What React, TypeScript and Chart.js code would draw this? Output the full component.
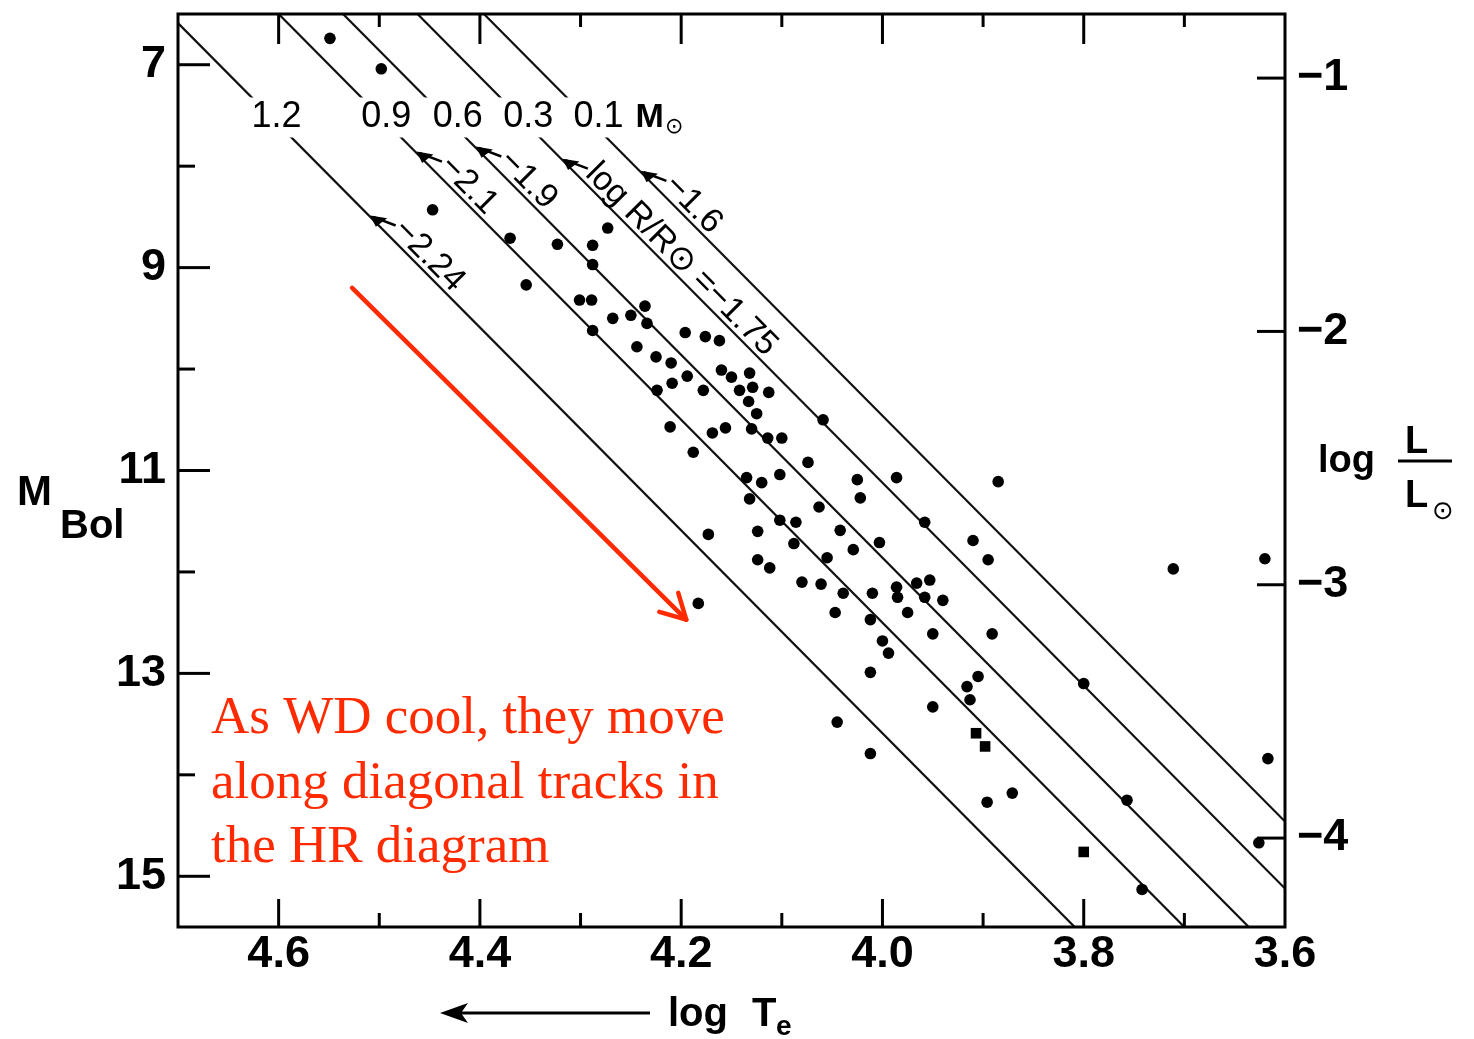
import React, { useEffect, useRef } from 'react';
import { Chart, registerables } from 'chart.js';

Chart.register(...registerables);

// ---------------- data ----------------
const starLogTe = [
  4.549, 4.498, 4.447, 4.370, 4.354, 4.323, 4.288, 4.273, 4.288, 4.301,
  4.289, 4.268, 4.250, 4.236, 4.234, 4.288, 4.244, 4.225, 4.210, 4.209,
  4.224, 4.194, 4.178, 4.196, 4.176, 4.162, 4.160, 4.150, 4.132, 4.142,
  4.129, 4.133, 4.125, 4.113, 4.059, 4.211, 4.169, 4.156, 4.130, 4.114,
  4.100, 4.188, 4.074, 4.135, 4.120, 4.102, 4.025, 3.986, 4.022, 4.132,
  4.063, 4.102, 4.086, 4.173, 4.124, 4.042, 4.088, 4.003, 4.029, 3.958,
  4.055, 4.124, 4.112, 4.080, 4.061, 4.039, 4.010, 3.986, 3.985, 3.966,
  3.975, 4.047, 4.012, 4.183, 3.885, 3.910, 3.895, 3.711, 3.620, 3.953,
  3.958, 3.940, 3.950, 3.891, 3.905, 3.916, 3.913, 3.950, 3.800, 3.617,
  3.871, 3.896, 3.757, 3.626, 3.742, 4.000, 3.994, 4.012, 4.045, 4.012,
];
const starMbol = [
  6.74, 7.04, 8.43, 8.71, 9.17, 8.77, 8.78, 8.61, 8.97, 9.32,
  9.32, 9.50, 9.47, 9.38, 9.55, 9.62, 9.78, 9.88, 9.94, 10.14,
  10.21, 10.07, 10.21, 9.64, 9.68, 9.72, 10.01, 10.08, 10.04, 10.21,
  10.18, 10.32, 10.44, 10.23, 10.50, 10.57, 10.63, 10.58, 10.59, 10.68,
  10.68, 10.82, 10.92, 11.07, 11.12, 11.04, 11.09, 11.07, 11.27, 11.28,
  11.36, 11.49, 11.51, 11.63, 11.60, 11.59, 11.72, 11.71, 11.78, 11.51,
  11.86, 11.88, 11.96, 12.10, 12.12, 12.21, 12.21, 12.15, 12.25, 12.11,
  12.40, 12.40, 12.47, 12.31, 11.11, 11.69, 11.88, 11.97, 11.87, 12.08,
  12.25, 12.28, 12.61, 12.61, 13.03, 13.13, 13.26, 13.33, 13.10, 13.84,
  14.18, 14.27, 14.25, 14.67, 15.13, 12.68, 12.80, 12.99, 13.48, 13.79,
];
const squareLogTe = [3.907, 3.898, 3.800];
const squareMbol = [13.59, 13.72, 14.76];

// constant-mass (constant-radius) tracks: M_bol at log Te = 4.0, slope dM/dlogTe
const trackMassLabels = ['1.2', '0.9', '0.6', '0.3', '0.1'];
const trackMbolAtLogTe4 = [13.59, 12.5, 11.86, 11.12, 10.46];
const TRACK_SLOPE = -10;

const radiusLabels = ['−2.24', '−2.1', '−1.9', 'log R/R⊙ =−1.75', '−1.6'];
const radiusLabelTrack = [0, 1, 2, 3, 4];

const xTickValues = [4.6, 4.4, 4.2, 4.0, 3.8, 3.6];
const xTickLabels = ['4.6', '4.4', '4.2', '4.0', '3.8', '3.6'];
const xMinorValues = [4.5, 4.3, 4.1, 3.9, 3.7];
const yTickValues = [7, 9, 11, 13, 15];
const yTickLabels = ['7', '9', '11', '13', '15'];
const yMinorValues = [8, 10, 12, 14];
const lumTickValues = [-1, -2, -3, -4];
const lumTickLabels = ['−1', '−2', '−3', '−4'];

const noteLines = ['As WD cool, they move', 'along diagonal tracks in', 'the HR diagram'];

// ---------------- styling ----------------
const FONT = "'Liberation Sans', Arial, sans-serif";
const SERIF = "'Liberation Serif', 'Times New Roman', serif";
const RED = '#ff2a00';
const INK = '#000';

const MASS_LABEL_MBOL = 7.52;
const massLabelDx = [5, 5, 12, 8, 12];
const radiusLabelMbol = [8.5, 7.87, 7.82, 7.94, 8.06];
const coolFrom = { x: 4.527, y: 9.2 };
const coolTo = { x: 4.195, y: 12.47 };

const trackLogTeAt = (i: number, m: number) => 4.0 + (m - trackMbolAtLogTe4[i]) / TRACK_SLOPE;
const trackMbolAt = (i: number, t: number) => trackMbolAtLogTe4[i] + TRACK_SLOPE * (t - 4.0);

const annotations = {
  id: 'wdAnnotations',
  beforeDatasetDraw(chart: any, args: any) {
    if (args.index !== 1) return;
    const { ctx } = chart;
    const xs = chart.scales.x;
    const ys = chart.scales.y;
    ctx.save();
    ctx.font = `36px ${FONT}`;
    ctx.textBaseline = 'middle';
    ctx.textAlign = 'center';
    trackMassLabels.forEach((lab, i) => {
      const t = trackLogTeAt(i, MASS_LABEL_MBOL);
      const cx = xs.getPixelForValue(t) + massLabelDx[i];
      const cy = ys.getPixelForValue(MASS_LABEL_MBOL);
      const w = ctx.measureText(lab).width;
      const topY = cy - 20;
      const botY = cy + 20;
      const lineTopX = xs.getPixelForValue(trackLogTeAt(i, ys.getValueForPixel(topY)));
      const lineBotX = xs.getPixelForValue(trackLogTeAt(i, ys.getValueForPixel(botY)));
      const l = Math.min(cx - w / 2 - 5, lineTopX - 4);
      const r = Math.max(cx + w / 2 + 5, lineBotX + 4);
      ctx.fillStyle = '#fff';
      ctx.fillRect(l, topY, r - l, botY - topY);
      ctx.fillStyle = INK;
      ctx.fillText(lab, cx, cy);
      if (i === trackMassLabels.length - 1) {
        ctx.save();
        ctx.textAlign = 'left';
        ctx.font = `bold 34px ${FONT}`;
        ctx.fillText('M', cx + w / 2 + 12, cy);
        const mw = ctx.measureText('M').width;
        ctx.font = `22px 'DejaVu Sans', sans-serif`;
        ctx.fillText('⊙', cx + w / 2 + 13 + mw, cy + 10);
        ctx.restore();
      }
    });
    ctx.restore();
  },
  afterDraw(chart: any) {
    const { ctx, chartArea: a } = chart;
    const xs = chart.scales.x;
    const ys = chart.scales.y;
    const ls = chart.scales.y2;
    ctx.save();
    ctx.strokeStyle = INK;
    ctx.fillStyle = INK;
    ctx.lineCap = 'butt';

    // frame
    ctx.lineWidth = 3;
    ctx.strokeRect(a.left, a.top, a.right - a.left, a.bottom - a.top);

    const seg = (x1: number, y1: number, x2: number, y2: number) => {
      ctx.beginPath();
      ctx.moveTo(x1, y1);
      ctx.lineTo(x2, y2);
      ctx.stroke();
    };
    // inward ticks
    xTickValues.forEach((v) => {
      const x = xs.getPixelForValue(v);
      if (x > a.right - 2) return;
      seg(x, a.bottom, x, a.bottom - 28);
      seg(x, a.top, x, a.top + 30);
    });
    xMinorValues.forEach((v) => {
      const x = xs.getPixelForValue(v);
      seg(x, a.bottom, x, a.bottom - 14);
      seg(x, a.top, x, a.top + 13);
    });
    yTickValues.forEach((v) => {
      const y = ys.getPixelForValue(v);
      seg(a.left, y, a.left + 32, y);
    });
    yMinorValues.forEach((v) => {
      const y = ys.getPixelForValue(v);
      seg(a.left, y, a.left + 17, y);
    });
    lumTickValues.forEach((v) => {
      const y = ls.getPixelForValue(v);
      seg(a.right, y, a.right - 28, y);
    });

    // radius labels along tracks (arrow on the track, text just above it)
    radiusLabels.forEach((txt, k) => {
      const i = radiusLabelTrack[k];
      const m = radiusLabelMbol[k];
      const t = trackLogTeAt(i, m);
      const x0 = xs.getPixelForValue(t);
      const y0 = ys.getPixelForValue(m);
      const x1 = xs.getPixelForValue(trackLogTeAt(i, m + 1));
      const y1 = ys.getPixelForValue(m + 1);
      const ang = Math.atan2(y1 - y0, x1 - x0);
      ctx.save();
      ctx.translate(x0, y0);
      ctx.rotate(ang);
      ctx.lineWidth = 2.5;
      ctx.beginPath();
      ctx.moveTo(2, -2);
      ctx.lineTo(24, -12);
      ctx.stroke();
      ctx.beginPath();
      ctx.moveTo(-1, -1);
      ctx.lineTo(13, -11);
      ctx.lineTo(11, 3);
      ctx.closePath();
      ctx.fill();
      ctx.font = `34px ${FONT}`;
      ctx.textAlign = 'left';
      ctx.textBaseline = 'alphabetic';
      ctx.fillText(txt, 26, -5);
      ctx.restore();
    });

    // red cooling arrow
    const fx = xs.getPixelForValue(coolFrom.x);
    const fy = ys.getPixelForValue(coolFrom.y);
    const tx = xs.getPixelForValue(coolTo.x);
    const ty = ys.getPixelForValue(coolTo.y);
    ctx.strokeStyle = RED;
    ctx.lineWidth = 4.5;
    ctx.lineCap = 'round';
    seg(fx, fy, tx, ty);
    const ang = Math.atan2(ty - fy, tx - fx);
    const hl = 28;
    const spread = 0.5;
    seg(tx, ty, tx - hl * Math.cos(ang - spread), ty - hl * Math.sin(ang - spread));
    seg(tx, ty, tx - hl * Math.cos(ang + spread), ty - hl * Math.sin(ang + spread));

    // red note
    ctx.fillStyle = RED;
    ctx.font = `53px ${SERIF}`;
    ctx.textAlign = 'left';
    ctx.textBaseline = 'alphabetic';
    noteLines.forEach((line, i) => {
      ctx.fillText(line, a.left + 33, 733 + i * 64.5);
    });

    // axis titles
    ctx.fillStyle = INK;
    ctx.strokeStyle = INK;
    ctx.lineCap = 'butt';
    // left: M_Bol
    ctx.font = `bold 42px ${FONT}`;
    ctx.fillText('M', 17, 505);
    ctx.font = `bold 40px ${FONT}`;
    ctx.fillText('Bol', 60, 538);

    // bottom: <--- log T_e
    ctx.lineWidth = 3;
    seg(446, 1013, 650, 1013);
    ctx.beginPath();
    ctx.moveTo(440, 1013);
    ctx.lineTo(468, 1003);
    ctx.lineTo(461, 1013);
    ctx.lineTo(468, 1023);
    ctx.closePath();
    ctx.fill();
    ctx.font = `bold 40px ${FONT}`;
    ctx.fillText('log', 668, 1026);
    ctx.fillText('T', 752, 1026);
    ctx.font = `bold 28px ${FONT}`;
    ctx.fillText('e', 776, 1035);

    // right: log L/L_sun
    ctx.font = `bold 38px ${FONT}`;
    ctx.fillText('log', 1318, 472);
    ctx.fillText('L', 1405, 453);
    ctx.lineWidth = 3;
    seg(1398, 461, 1452, 461);
    ctx.fillText('L', 1405, 507);
    ctx.font = `26px 'DejaVu Sans', sans-serif`;
    ctx.fillText('⊙', 1432, 519);

    ctx.restore();
  },
};

const noPadding = (s: any) => {
  s.paddingTop = 0;
  s.paddingBottom = 0;
  s.paddingLeft = 0;
  s.paddingRight = 0;
};

export default function App() {
  const canvasRef = useRef<HTMLCanvasElement | null>(null);

  useEffect(() => {
    const canvas = canvasRef.current;
    if (!canvas) return;

    const stars = starLogTe.map((t, i) => ({ x: t, y: starMbol[i] }));
    const squares = squareLogTe.map((t, i) => ({ x: t, y: squareMbol[i] }));
    const tracks = trackMassLabels.map((lab, i) => ({
      type: 'line' as const,
      label: `${lab} M⊙`,
      data: [
        { x: 4.75, y: trackMbolAt(i, 4.75) },
        { x: 3.55, y: trackMbolAt(i, 3.55) },
      ],
      borderColor: '#111',
      borderWidth: 2.2,
      pointRadius: 0,
      showLine: true,
      fill: false,
      xAxisID: 'x',
      yAxisID: 'y',
    }));

    const tickFont = { family: "'Liberation Sans', Arial, sans-serif", size: 45, weight: 'bold' as const };

    const chart = new Chart(canvas, {
      type: 'scatter',
      data: {
        datasets: [
          {
            label: 'White dwarfs',
            data: stars,
            pointRadius: 5.8,
            pointHoverRadius: 5.8,
            backgroundColor: INK,
            borderColor: INK,
            borderWidth: 0,
            xAxisID: 'x',
            yAxisID: 'y',
          },
          {
            label: 'White dwarfs (squares)',
            data: squares,
            pointStyle: 'rect',
            pointRadius: 7.5,
            pointHoverRadius: 7.5,
            backgroundColor: INK,
            borderColor: INK,
            borderWidth: 0,
            xAxisID: 'x',
            yAxisID: 'y',
          },
          ...tracks,
        ] as any,
      },
      options: {
        responsive: false,
        animation: false,
        events: [],
        layout: { padding: { top: 14, left: 0, right: 0, bottom: 0 } },
        plugins: { legend: { display: false }, tooltip: { enabled: false } },
        scales: {
          x: {
            type: 'linear',
            position: 'bottom',
            reverse: true,
            min: 3.6,
            max: 4.7,
            afterBuildTicks: (s: any) => {
              s.ticks = xTickValues.map((v) => ({ value: v }));
            },
            afterFit: (s: any) => {
              s.height = 112;
              noPadding(s);
            },
            grid: { display: false, drawTicks: false },
            border: { display: false },
            ticks: {
              autoSkip: false,
              maxRotation: 0,
              padding: 1,
              color: INK,
              font: tickFont,
              callback: (_v: any, i: number) => xTickLabels[i],
            },
          },
          y: {
            type: 'linear',
            position: 'left',
            reverse: true,
            min: 6.5,
            max: 15.5,
            afterBuildTicks: (s: any) => {
              s.ticks = yTickValues.map((v) => ({ value: v }));
            },
            afterFit: (s: any) => {
              s.width = 178;
              noPadding(s);
            },
            grid: { display: false, drawTicks: false },
            border: { display: false },
            ticks: {
              autoSkip: false,
              padding: 12,
              color: INK,
              font: tickFont,
              callback: (_v: any, i: number) => yTickLabels[i],
            },
          },
          y2: {
            type: 'linear',
            position: 'right',
            min: -4.351,
            max: -0.747,
            afterBuildTicks: (s: any) => {
              s.ticks = lumTickValues.map((v) => ({ value: v }));
            },
            afterFit: (s: any) => {
              s.width = 189;
              noPadding(s);
            },
            grid: { display: false, drawTicks: false },
            border: { display: false },
            ticks: {
              autoSkip: false,
              padding: 12,
              color: INK,
              font: tickFont,
              callback: (_v: any, i: number) => lumTickLabels[i],
            },
          },
        },
      } as any,
      plugins: [annotations],
    });

    return () => {
      chart.destroy();
    };
  }, []);

  return (
    <div style={{ position: 'absolute', left: 0, top: 0, width: 1474, height: 1039, background: '#fff' }}>
      <canvas ref={canvasRef} width={1474} height={1039} style={{ display: 'block', width: 1474, height: 1039 }} />
    </div>
  );
}
